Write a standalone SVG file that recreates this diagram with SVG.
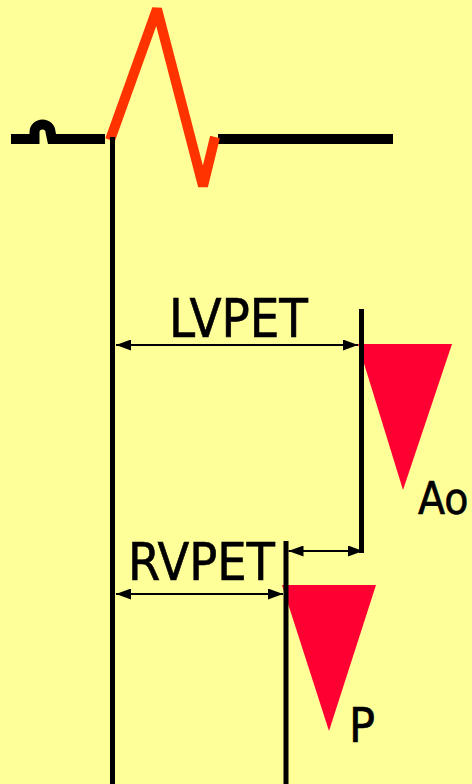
<svg xmlns="http://www.w3.org/2000/svg" width="472" height="784" viewBox="0 0 472 784">
<defs>
<style>
.bg{fill:#FFFF99}
.ecg{fill:none;stroke:#000;stroke-width:10}
.qrs{fill:none;stroke:#FF3300;stroke-width:10;stroke-linejoin:bevel}
.vl{stroke:#000;stroke-width:5;fill:none}
.arr{stroke:#000;stroke-width:2;fill:none;marker-start:url(#ah);marker-end:url(#ah)}
.tri{fill:#FF0033}
.lbl{font-family:"DejaVu Sans Condensed","DejaVu Sans",sans-serif;fill:#000;stroke:#000;stroke-width:0.6}
</style>
<marker id="ah" viewBox="0 0 15 11" refX="15" refY="5.5" markerWidth="15" markerHeight="11" markerUnits="userSpaceOnUse" orient="auto-start-reverse">
<path d="M0,0 L15,5.5 L0,11 z" fill="#000"/>
</marker>
</defs>
<rect class="bg" x="0" y="0" width="472" height="784"/>
<g id="ecg">
<path class="ecg" d="M11,139 H34.5 V132 A8,7.5 0 0 1 50.5,132 L52,139 H105"/>
<path class="ecg" d="M218,139 H393"/>
<path class="qrs" d="M110,140 L157,9 L203,186 L215,137"/>
</g>
<g id="ao-valve">
<polygon class="tri" points="358,344 452,344 403,490"/>
<text class="lbl" x="418" y="514" font-size="44">Ao</text>
</g>
<g id="p-valve">
<polygon class="tri" points="282,585 376,585 329,731"/>
<text class="lbl" x="349" y="742" font-size="48">P</text>
</g>
<g id="lines">
<line class="vl" x1="112.5" y1="137" x2="112.5" y2="784"/>
<line class="vl" x1="361.5" y1="309" x2="361.5" y2="553"/>
<line class="vl" x1="286" y1="541" x2="286" y2="784"/>
</g>
<g id="connectors">
<line class="arr" x1="116" y1="345" x2="358" y2="345"/>
<line class="arr" x1="116" y1="594" x2="283" y2="594"/>
<line class="arr" x1="288.5" y1="551" x2="363" y2="551"/>
</g>
<g id="labels">
<text class="lbl" x="169" y="337" font-size="53" textLength="139" lengthAdjust="spacingAndGlyphs">LVPET</text>
<text class="lbl" x="128" y="580" font-size="51" textLength="147" lengthAdjust="spacingAndGlyphs">RVPET</text>
</g>
</svg>
